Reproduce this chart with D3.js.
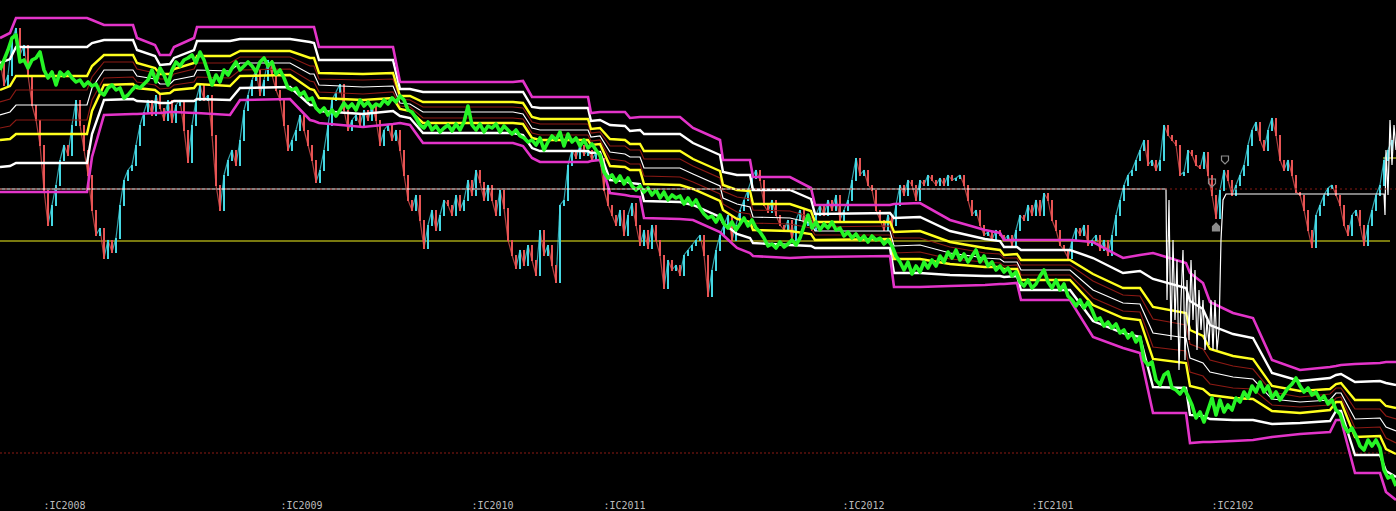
<!DOCTYPE html>
<html>
<head>
<meta charset="utf-8">
<script src="https://cdn.jsdelivr.net/npm/d3@7"></script>
<style>
html, body { margin: 0; padding: 0; background: #000; overflow: hidden; }
</style>
</head>
<body>
<div id="chartDiv"></div>
<script>
// ---- data (x = session index, y = index points) ----

// closes and green line are sampled every 4 sessions
var sampleStep = 4;

var closes = [
	7400,7150,7250,7600,7720,7450,7550,7250,6950,6800,
	6550,6100,5750,5950,6150,6400,6550,6450,6750,7000,
	6750,6500,6250,5900,5650,5720,5420,5600,5480,5620,
	5950,6200,6300,6350,6550,6750,6880,7000,6850,7050,
	6920,6800,7000,6780,6950,7000,6700,6380,6750,7000,
	7150,7000,7050,6650,6150,5900,6250,6400,6500,6350,
	6600,6900,7050,7200,7300,7050,7200,7400,7250,7100,
	7000,6750,6500,6600,6700,6850,6700,6550,6400,6180,
	6300,6500,6750,7000,7080,7160,6900,6700,6800,6850,
	6750,6900,6800,6950,6800,6550,6700,6750,6600,6700,
	6500,6250,6000,5900,6050,5800,5520,5750,5900,5700,
	5850,6000,5950,5850,6050,5900,6000,6200,6050,6300,
	6180,6000,6150,6000,5850,6100,5920,5600,5450,5320,
	5500,5350,5550,5400,5250,5700,5450,5550,5350,5180,
	5950,6000,6350,6500,6420,6550,6450,6500,6400,6480,
	6420,6100,5950,5850,5750,5900,5650,5850,5970,5750,
	5550,5700,5520,5750,5600,5450,5120,5400,5300,5350,
	5250,5450,5500,5550,5600,5650,5450,5040,5300,5500,
	5650,5750,5850,5600,5750,5900,6000,6100,6220,6300,
	6200,5950,5880,6000,5850,5750,5700,5800,5600,5800,
	5900,5750,5800,5700,5850,5950,5850,6000,5900,6050,
	5800,5900,6000,6200,6420,6250,6300,6150,6100,5900,
	5800,5700,5850,5750,5950,6150,6050,6200,6150,6000,
	6200,6150,6250,6200,6150,6220,6150,6250,6200,6220,
	6250,6150,6000,5850,5900,5750,5650,5680,5600,5700,
	5650,5600,5650,5550,5700,5850,5800,5950,5850,6000,
	5850,6070,6000,5800,5700,5550,5500,5420,5600,5720,
	5650,5750,5550,5600,5650,5500,5600,5450,5650,5850,
	6000,6150,6250,6300,6400,6500,6600,6350,6400,6300,
	6400,6750,6650,6600,6550,6250,6280,6500,6450,6350,
	6320,6480,6250,6050,5820,6100,6300,6200,6050,6150,
	6250,6350,6550,6700,6780,6600,6500,6700,6820,6650,
	6400,6300,6400,6250,6080,6050,5900,5700,5530,5850,
	5950,6050,6120,6150,6050,5950,5750,5650,5850,5900,
	5750,5550,5750,5900,6050,6150,6400,6500,6600
];

var greenLine = [
	7300,7400,7500,7620,7650,7380,7400,7320,7400,7420,
	7480,7300,7220,7280,7150,7280,7240,7280,7220,7180,
	7200,7140,7180,7140,7160,7080,7050,7120,7150,7100,
	7120,7020,7050,7100,7140,7120,7160,7200,7300,7180,
	7320,7250,7150,7300,7380,7340,7400,7420,7450,7370,
	7480,7400,7280,7150,7250,7180,7300,7250,7320,7380,
	7300,7340,7380,7340,7280,7380,7420,7340,7380,7260,
	7300,7220,7120,7100,7120,7050,7080,7000,7020,6920,
	6880,6920,6850,6900,6840,6900,6970,6920,6960,6900,
	7000,6940,6980,6920,6960,6940,7000,6960,7020,6980,
	7040,7000,6900,6880,6820,6750,6720,6780,6700,6740,
	6680,6720,6750,6690,6760,6700,6780,6940,6750,6700,
	6760,6680,6740,6720,6760,6680,6740,6700,6660,6700,
	6640,6620,6580,6600,6550,6620,6500,6580,6640,6600,
	6680,6540,6660,6580,6620,6540,6600,6520,6560,6500,
	6450,6280,6220,6250,6180,6240,6160,6220,6140,6100,
	6140,6080,6120,6050,6100,6020,6080,6000,6050,6020,
	6040,5960,6020,5950,6000,5920,5860,5820,5840,5780,
	5850,5760,5720,5780,5700,5760,5820,5740,5800,5720,
	5680,5620,5540,5560,5520,5580,5530,5560,5600,5550,
	5620,5740,5850,5720,5780,5700,5760,5720,5780,5700,
	5720,5640,5680,5620,5660,5600,5640,5580,5640,5600,
	5620,5560,5600,5540,5440,5380,5300,5380,5260,5340,
	5280,5380,5320,5400,5340,5440,5380,5480,5420,5500,
	5400,5460,5380,5440,5500,5380,5440,5340,5380,5300,
	5340,5280,5320,5240,5280,5180,5140,5200,5120,5160,
	5240,5300,5180,5120,5200,5100,5160,5040,5000,4940,
	5000,4920,4980,4900,4800,4820,4740,4780,4720,4760,
	4670,4700,4620,4670,4580,4630,4400,4350,4380,4200,
	4150,4250,4280,4120,4100,4060,4120,4040,3950,3820,
	3880,3780,3900,4020,3850,4000,3880,3950,3900,4020,
	3980,4080,4020,4140,4080,4180,4080,4140,4020,4080,
	4000,4060,4120,4160,4220,4140,4080,4120,4050,4080,
	4000,4040,3960,4000,3900,3860,3740,3680,3720,3640,
	3540,3500,3600,3540,3600,3520,3300,3220,3240,3140
];

// band levels, all read at the same sessions
var bandIdx = [0,10,16,87,92, 104,133,137,155,160, 170,174,194,197,230, 240,290,310,314,319,
	363,393,400,410,423, 513,523,532,540,588, 591,600,610,625,630, 640,644,680,693,720,
	723,737,750,753,790, 811,815,890,894,920, 950,985,1000,1004,1017, 1021,1070,1093,1123,1140,
	1153,1186,1190,1203,1210, 1233,1253,1272,1300,1330, 1336,1341,1355,1380,1386, 1396];

var bandUpperMagenta = [7620,7670,7820,7820,7800, 7750,7750,7620,7550,7450, 7450,7530,7620,7730,7730, 7730,7730,7730,7730,7530,
	7530,7530,7180,7180,7180, 7180,7190,7030,7030,7030, 6870,6880,6880,6880,6820, 6830,6830,6830,6720,6600,
	6400,6400,6400,6230,6230, 6120,5950,5950,5960,5970, 5800,5700,5670,5600,5600, 5600,5600,5580,5420,5450,
	5470,5370,5270,5170,4980, 4870,4820,4400,4300,4330, 4340,4350,4360,4370,4380, 4380];
var bandUpperWhite = [7370,7410,7530,7530,7570, 7600,7600,7500,7440,7350, 7360,7420,7500,7590,7590, 7610,7610,7580,7570,7400,
	7400,7400,7110,7110,7080, 7080,7080,6930,6920,6920, 6790,6800,6750,6740,6690, 6700,6660,6660,6570,6450,
	6280,6250,6250,6100,6100, 6010,5860,5870,5820,5830, 5690,5610,5590,5530,5530, 5500,5500,5420,5270,5290,
	5210,5120,4990,4910,4750, 4660,4620,4270,4190,4220, 4250,4260,4180,4190,4170, 4150];
var bandUpperYellow = [7100,7140,7240,7240,7340, 7450,7450,7370,7320,7260, 7260,7310,7370,7440,7440, 7490,7490,7420,7420,7270,
	7260,7270,7040,7040,6980, 6980,6970,6830,6810,6810, 6710,6720,6610,6600,6560, 6560,6490,6490,6410,6290,
	6150,6100,6090,5960,5960, 5890,5780,5780,5680,5690, 5580,5520,5500,5450,5460, 5400,5400,5260,5120,5120,
	4930,4870,4700,4640,4510, 4440,4410,4140,4090,4110, 4160,4170,4000,4000,3940, 3920];
var bandUpperRed = [6980,7010,7100,7100,7230, 7380,7380,7310,7270,7210, 7210,7260,7310,7370,7370, 7430,7430,7340,7340,7210,
	7200,7210,7010,7000,6930, 6930,6920,6780,6760,6760, 6670,6680,6540,6540,6500, 6500,6410,6410,6340,6220,
	6090,6030,6010,5900,5890, 5830,5730,5740,5620,5620, 5530,5470,5460,5420,5420, 5350,5350,5190,5050,5040,
	4810,4750,4560,4510,4400, 4340,4310,4080,4030,4060, 4120,4120,3910,3910,3840, 3810];
var bandMiddle = [6850,6880,6950,6950,7120, 7300,7300,7240,7210,7160, 7160,7200,7240,7300,7290, 7370,7370,7260,7260,7150,
	7130,7140,6970,6960,6880, 6880,6860,6720,6700,6700, 6630,6640,6480,6460,6430, 6430,6320,6320,6260,6140,
	6020,5960,5930,5830,5820, 5770,5690,5690,5540,5550, 5470,5420,5410,5380,5380, 5300,5300,5100,4970,4960,
	4670,4620,4420,4370,4280, 4230,4210,4010,3980,4000, 4070,4070,3810,3820,3730, 3690];
var bandLowerRed = [6720,6740,6800,6800,7000, 7220,7230,7180,7150,7110, 7120,7150,7180,7230,7220, 7300,7310,7190,7180,7080,
	7060,7080,6940,6930,6820, 6820,6810,6670,6650,6650, 6590,6600,6410,6390,6360, 6360,6240,6230,6180,6060,
	5960,5880,5860,5770,5760, 5720,5650,5650,5470,5480, 5410,5380,5370,5340,5350, 5250,5250,5020,4890,4880,
	4530,4490,4280,4240,4160, 4120,4110,3950,3930,3950, 4020,4030,3720,3730,3620, 3570];
var bandLowerYellow = [6600,6610,6660,6660,6890, 7150,7160,7120,7100,7060, 7070,7100,7120,7160,7140, 7240,7250,7110,7100,7020,
	7000,7020,6910,6890,6770, 6770,6760,6620,6600,6600, 6550,6560,6340,6330,6300, 6300,6160,6150,6110,5990,
	5900,5810,5780,5700,5690, 5660,5600,5610,5410,5410, 5360,5330,5330,5310,5310, 5200,5200,4950,4820,4800,
	4410,4370,4140,4110,4050, 4020,4010,3890,3870,3900, 3980,3980,3630,3640,3510, 3460];
var bandLowerWhite = [6330,6340,6370,6370,6660, 7000,7010,6990,6980,6970, 6970,6990,6990,7010,7000, 7120,7130,6950,6950,6890,
	6860,6890,6840,6820,6670, 6670,6650,6520,6490,6490, 6470,6480,6200,6190,6170, 6160,5990,5980,5950,5830,
	5770,5660,5620,5570,5550, 5540,5520,5520,5270,5270, 5250,5240,5240,5230,5240, 5100,5100,4790,4670,4630,
	4130,4120,3850,3840,3810, 3800,3800,3760,3770,3790, 3890,3890,3450,3450,3290, 3230];
var bandLowerMagenta = [6080,6080,6080,6080,6430, 6850,6860,6860,6870,6870, 6880,6880,6870,6870,6850, 7000,7010,6800,6790,6770,
	6730,6760,6770,6750,6570, 6570,6540,6420,6380,6380, 6390,6400,6070,6050,6040, 6030,5820,5810,5800,5680,
	5650,5520,5470,5440,5420, 5430,5430,5440,5130,5130, 5140,5150,5160,5160,5170, 5000,5000,4630,4520,4470,
	3870,3870,3570,3580,3580, 3590,3600,3630,3660,3680, 3800,3800,3270,3270,3080, 3000];

// white signal line
var signalIdx = [0,1166,1167,1169,1171,1173,1175,1177,1179,1181,1183,1185,1187,1189,1191,1193,1195,1197,1199,1201,
	1203,1205,1207,1209,1211,1213,1215,1217,1219,1221,1223,1226,1384,1385,1386,1388,1390,1392,1394,1396];
var signalVal = [6110,6110,5000,6000,4600,5600,4800,5400,4300,5000,5500,4400,5200,4600,5400,4800,5300,4500,5100,4700,
	5000,4500,4800,4550,5000,4500,5000,4500,4700,5600,6000,6060,6060,5850,6500,6050,6800,6350,6750,6500];

// signal markers
var markIdx = [1212, 1225, 1216];
var markVal = [6170, 6400, 5730];
var markType = ["down", "down", "up"];

// horizontal levels
var levelWhiteRed = 6110;
var levelYellow = 5590;
var levelYellowEnd = 1390;
var levelLow = 3470;
var levelYellowShort = 6420;
var levelYellowShortIdx = [1383, 1396];

// contract labels
var contractIdx = [43, 280, 471, 603, 842, 1031, 1211];
var contractNames = [":IC2008", ":IC2009", ":IC2010", ":IC2011", ":IC2012", ":IC2101", ":IC2102"];

// ---- drawing ----
var width = 1396, height = 511;

var svg = d3.select("#chartDiv").append("svg")
	.attr("width", width)
	.attr("height", height)
	.style("display", "block")
	.style("background", "#000");

var x = d3.scaleLinear().domain([0, 1396]).range([0, width]);
var y = d3.scaleLinear().domain([2890, 8000]).range([height, 0]);

var magenta = "#e334c9", darkRed = "#8c1a14";
var upColor = "#45d8e4", downColor = "#e85454";

// yellow level lines
svg.append("line")
	.attr("x1", x(0)).attr("x2", x(levelYellowEnd))
	.attr("y1", y(levelYellow)).attr("y2", y(levelYellow))
	.attr("stroke", "#f2f21e").attr("stroke-width", 1);
svg.append("line")
	.attr("x1", x(levelYellowShortIdx[0])).attr("x2", x(levelYellowShortIdx[1]))
	.attr("y1", y(levelYellowShort)).attr("y2", y(levelYellowShort))
	.attr("stroke", "#f2f21e").attr("stroke-width", 1);

// low dotted level
svg.append("line")
	.attr("x1", 0).attr("x2", width)
	.attr("y1", y(levelLow)).attr("y2", y(levelLow))
	.attr("stroke", darkRed).attr("stroke-width", 1)
	.attr("stroke-dasharray", "2,2");

// price: thin connecting line, then candle bodies from previous close to close
var pts = closes.map(function(v, i) { return {i: i * sampleStep, v: v}; });
var pricePairs = d3.pairs(pts);

svg.append("g").selectAll("line")
	.data(pricePairs)
	.enter().append("line")
	.attr("x1", function(d) { return x(d[0].i); })
	.attr("y1", function(d) { return y(d[0].v); })
	.attr("x2", function(d) { return x(d[1].i); })
	.attr("y2", function(d) { return y(d[1].v); })
	.attr("stroke", function(d) { return d[1].v >= d[0].v ? upColor : downColor; })
	.attr("stroke-opacity", 0.75)
	.attr("stroke-width", 1.2);

svg.append("g").selectAll("rect")
	.data(pricePairs)
	.enter().append("rect")
	.attr("x", function(d) { return x(d[1].i) - 1; })
	.attr("width", 2)
	.attr("y", function(d) { return y(Math.max(d[0].v, d[1].v)); })
	.attr("height", function(d) { return Math.abs(y(d[0].v) - y(d[1].v)) + 1; })
	.attr("fill", function(d) { return d[1].v >= d[0].v ? upColor : downColor; });

// band lines
var bandLine = d3.line()
	.x(function(d, i) { return x(bandIdx[i]); })
	.y(function(d) { return y(d); });

var bands = [
	{vals: bandUpperRed, color: darkRed, w: 1.2},
	{vals: bandLowerRed, color: darkRed, w: 1.2},
	{vals: bandMiddle, color: "#ffffff", w: 1.2},
	{vals: bandUpperYellow, color: "#ffff1e", w: 2.4},
	{vals: bandLowerYellow, color: "#ffff1e", w: 2.4},
	{vals: bandUpperWhite, color: "#ffffff", w: 2.4},
	{vals: bandLowerWhite, color: "#ffffff", w: 2.4},
	{vals: bandUpperMagenta, color: magenta, w: 2.6},
	{vals: bandLowerMagenta, color: magenta, w: 2.6}
];

svg.append("g").selectAll("path")
	.data(bands)
	.enter().append("path")
	.attr("d", function(d) { return bandLine(d.vals); })
	.attr("fill", "none")
	.attr("stroke", function(d) { return d.color; })
	.attr("stroke-width", function(d) { return d.w; });

// green line
svg.append("path")
	.attr("d", d3.line()
		.x(function(d, i) { return x(i * sampleStep); })
		.y(function(d) { return y(d); })(greenLine))
	.attr("fill", "none")
	.attr("stroke", "#26f526")
	.attr("stroke-width", 3.6)
	.attr("stroke-linejoin", "round");

// white signal line
svg.append("path")
	.attr("d", d3.line()
		.x(function(d, i) { return x(signalIdx[i]); })
		.y(function(d) { return y(d); })(signalVal))
	.attr("fill", "none")
	.attr("stroke", "#ffffff")
	.attr("stroke-width", 1.2);

// dotted red level drawn over the flat signal line
svg.append("line")
	.attr("x1", 0).attr("x2", width)
	.attr("y1", y(levelWhiteRed)).attr("y2", y(levelWhiteRed))
	.attr("stroke", darkRed).attr("stroke-width", 1)
	.attr("stroke-dasharray", "2,3");

// markers
var arrowDown = "M-3.5,-4 L3.5,-4 L3.5,0.5 L0,4 L-3.5,0.5 Z";
var arrowUp = "M0,-4 L3.5,-0.5 L3.5,4 L-3.5,4 L-3.5,-0.5 Z";
svg.append("g").selectAll("path")
	.data(markIdx)
	.enter().append("path")
	.attr("transform", function(d, i) { return "translate(" + x(d) + "," + y(markVal[i]) + ")"; })
	.attr("d", function(d, i) { return markType[i] == "up" ? arrowUp : arrowDown; })
	.attr("fill", function(d, i) { return markType[i] == "up" ? "#8c8c8c" : "none"; })
	.attr("stroke", "#8c8c8c")
	.attr("stroke-width", 1.2);

// contract labels along the bottom
var axis = svg.append("g")
	.attr("transform", "translate(0," + 502 + ")")
	.call(d3.axisBottom(x)
		.tickValues(contractIdx)
		.tickFormat(function(d, i) { return contractNames[i]; })
		.tickSize(0)
		.tickPadding(0));
axis.select(".domain").remove();
axis.selectAll("text")
	.attr("text-anchor", "start")
	.attr("fill", "#bcbcbc")
	.style("font-family", "'DejaVu Sans Mono', monospace")
	.style("font-size", "10px");
</script>
</body>
</html>
